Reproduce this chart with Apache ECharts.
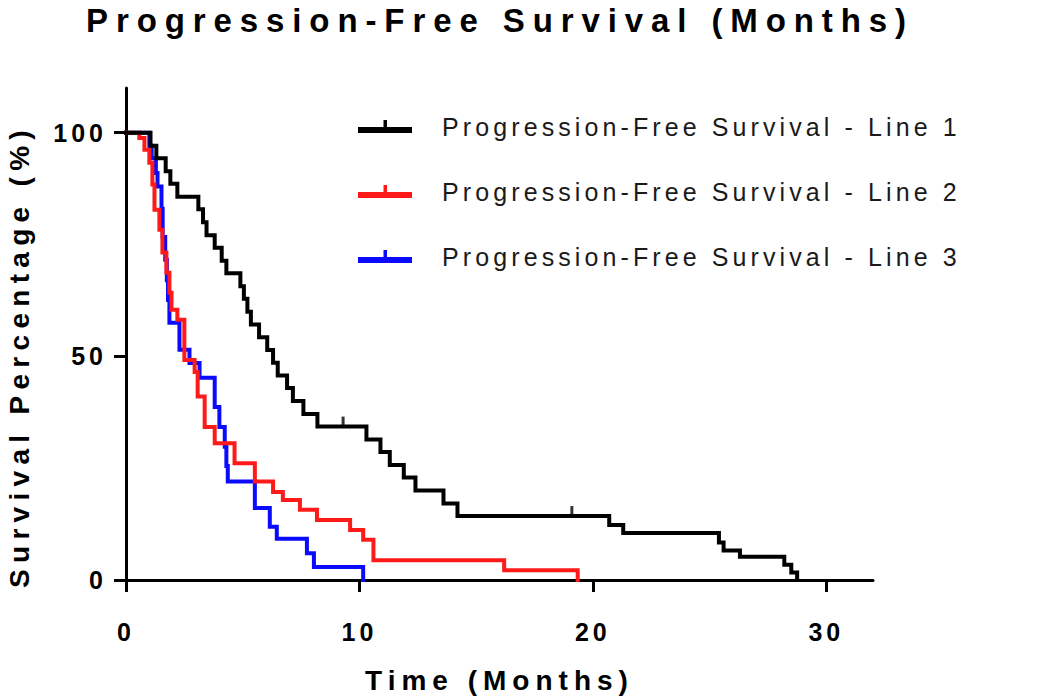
<!DOCTYPE html>
<html>
<head>
<meta charset="utf-8">
<script src="https://cdn.jsdelivr.net/npm/echarts@6/dist/echarts.min.js"></script>
<style>
  html, body { margin: 0; padding: 0; background: #fff; }
  #chart { width: 1050px; height: 699px; }
</style>
</head>
<body>
<div id="chart"></div>
<script>
// ---- data (months, survival %) ----
const chartTitle = 'Progression-Free Survival (Months)';
const xAxisTitle = 'Time (Months)';
const yAxisTitle = 'Survival Percentage (%)';
const seriesNames = [
  'Progression-Free Survival - Line 1',
  'Progression-Free Survival - Line 2',
  'Progression-Free Survival - Line 3'
];
const timeTicks = [0, 10, 20, 30];
const survivalTicks = [0, 50, 100];

const line1Times = [0, 1.05, 1.3, 1.7, 1.9, 2.2, 3.1, 3.3, 3.45, 3.8, 4.1, 4.3, 4.9, 5.05, 5.2, 5.35, 5.7, 6.05, 6.3, 6.5, 6.9, 7.15, 7.6, 8.2, 10.3, 10.9, 11.3, 11.9, 12.4, 13.6, 14.2, 20.7, 21.3, 25.4, 25.6, 26.3, 28.2, 28.5, 28.75];
const line1Survival = [100, 97.1, 94.3, 91.4, 88.6, 85.7, 82.9, 80.0, 77.1, 74.3, 71.4, 68.6, 65.7, 62.9, 60.0, 57.1, 54.3, 51.4, 48.6, 45.7, 42.9, 40.0, 37.1, 34.3, 31.4, 28.6, 25.7, 22.9, 20.0, 17.1, 14.3, 12.3, 10.5, 8.4, 6.6, 5.2, 3.4, 1.7, 0];
const line1CensorTimes = [9.3, 19.1];
const line1CensorSurvival = [34.3, 14.3];

const line2Times = [0, 0.57, 0.79, 1.0, 1.13, 1.22, 1.43, 1.56, 1.73, 1.86, 1.95, 2.2, 2.5, 2.94, 3.07, 3.37, 3.8, 4.65, 5.52, 6.3, 6.72, 7.45, 8.18, 9.6, 10.16, 10.6, 16.2, 19.35];
const line2Survival = [100, 98.8, 96.2, 93.3, 88.4, 82.8, 78.3, 73.2, 68.7, 64.2, 60.4, 58.2, 49.2, 46.5, 41.0, 34.2, 30.6, 26.1, 22.0, 19.7, 17.9, 15.7, 13.4, 11.2, 9.0, 4.4, 2.2, 0];

const line3Times = [0, 1.0, 1.1, 1.28, 1.35, 1.52, 1.57, 1.68, 1.75, 1.8, 1.86, 2.29, 2.72, 3.15, 3.8, 4.0, 4.23, 4.3, 4.36, 5.52, 6.16, 6.46, 7.75, 8.05, 10.16];
const line3Survival = [100, 97.1, 94.3, 91.0, 88.0, 83.0, 76.7, 71.6, 67.0, 62.6, 57.5, 51.5, 48.5, 45.2, 38.7, 34.2, 29.8, 25.5, 22.0, 16.1, 11.9, 9.2, 6.0, 2.9, 0];

const lineColors = ['#000000', '#ff1a1a', '#0a0aff'];

// ---- build chart ----
const zip = (xs, ys) => xs.map((x, i) => [x, ys[i]]);
const FONT = '"Liberation Sans", Arial, Helvetica, sans-serif';

const chart = echarts.init(document.getElementById('chart'), null, { renderer: 'svg' });

const legendIcon = 'path://M0,7H54V13H0Z M25.5,0H29V7H25.5Z M79,0L79,0.1Z';

function kmSeries(name, times, surv, color, z) {
  return {
    name: name,
    type: 'line',
    step: 'end',
    showSymbol: false,
    symbol: 'none',
    z: z,
    color: color,
    itemStyle: { color: color },
    lineStyle: { color: color, width: 4, cap: 'square', join: 'miter' },
    data: zip(times, surv),
    silent: true
  };
}

const option = {
  animation: false,
  backgroundColor: '#ffffff',
  title: {
    text: chartTitle,
    left: 86,
    top: 4,
    padding: 0,
    textStyle: { fontFamily: FONT, fontSize: 33, fontWeight: 'bold', color: '#000' }
  },
  legend: {
    data: seriesNames,
    orient: 'vertical',
    left: 358,
    top: 114,
    padding: 0,
    itemGap: 40,
    itemWidth: 79,
    itemHeight: 13,
    icon: legendIcon,
    itemStyle: { borderWidth: 0 },
    selectedMode: false,
    textStyle: { fontFamily: FONT, fontSize: 25, color: '#1a1a1a' }
  },
  grid: {
    left: 126, right: 177, top: 88, bottom: 119,
    containLabel: false,
    outerBoundsMode: 'none'
  },
  xAxis: {
    type: 'value',
    min: 0, max: 32, interval: 10,
    name: xAxisTitle,
    nameLocation: 'middle',
    nameGap: 100,
    nameTextStyle: { fontFamily: FONT, fontSize: 28, fontWeight: 'bold', color: '#000', verticalAlign: 'middle' },
    axisLine: { show: true, onZero: false, lineStyle: { color: '#000', width: 3 } },
    axisTick: { show: true, inside: false, length: 12, customValues: timeTicks, lineStyle: { color: '#000', width: 3 } },
    axisLabel: { customValues: timeTicks, margin: 39, fontFamily: FONT, fontSize: 25, fontWeight: 'bold', color: '#000' },
    splitLine: { show: false }
  },
  yAxis: {
    type: 'value',
    min: 0, max: 110, interval: 50,
    axisLine: { show: true, onZero: false, lineStyle: { color: '#000', width: 3 } },
    axisTick: { show: true, inside: false, length: 12, customValues: survivalTicks, lineStyle: { color: '#000', width: 3 } },
    axisLabel: { customValues: survivalTicks, margin: 19, fontFamily: FONT, fontSize: 25, fontWeight: 'bold', color: '#000' },
    splitLine: { show: false }
  },
  graphic: [{
    type: 'text',
    x: 19, y: 356,
    rotation: Math.PI / 2,
    silent: true,
    style: {
      text: yAxisTitle,
      font: 'bold 28px ' + FONT,
      fill: '#000',
      textAlign: 'center',
      textVerticalAlign: 'middle'
    }
  }],
  series: [
    kmSeries(seriesNames[0], line1Times, line1Survival, lineColors[0], 4),
    kmSeries(seriesNames[1], line2Times, line2Survival, lineColors[1], 3),
    kmSeries(seriesNames[2], line3Times, line3Survival, lineColors[2], 2),
    {
      name: 'censored-1',
      type: 'scatter',
      symbol: 'rect',
      symbolSize: [3, 10],
      symbolOffset: [0, -5],
      itemStyle: { color: lineColors[0] },
      z: 5,
      silent: true,
      data: zip(line1CensorTimes, line1CensorSurvival)
    }
  ]
};

chart.setOption(option);

// letter spacing of the original (wide-spaced) texts
function applySpacing() {
  const texts = document.querySelectorAll('#chart svg text');
  texts.forEach(t => {
    const s = t.textContent.trim();
    let sp = 4;
    if (s === chartTitle) sp = 7.9;
    else if (seriesNames.indexOf(s) >= 0) sp = 4.1;
    else if (s === xAxisTitle) sp = 6;
    else if (s === yAxisTitle) sp = 6.3;
    else sp = 4;
    t.setAttribute('letter-spacing', sp + 'px');
  });
}
applySpacing();
chart.on('finished', applySpacing);
requestAnimationFrame(applySpacing);
setTimeout(applySpacing, 50);
</script>
</body>
</html>
